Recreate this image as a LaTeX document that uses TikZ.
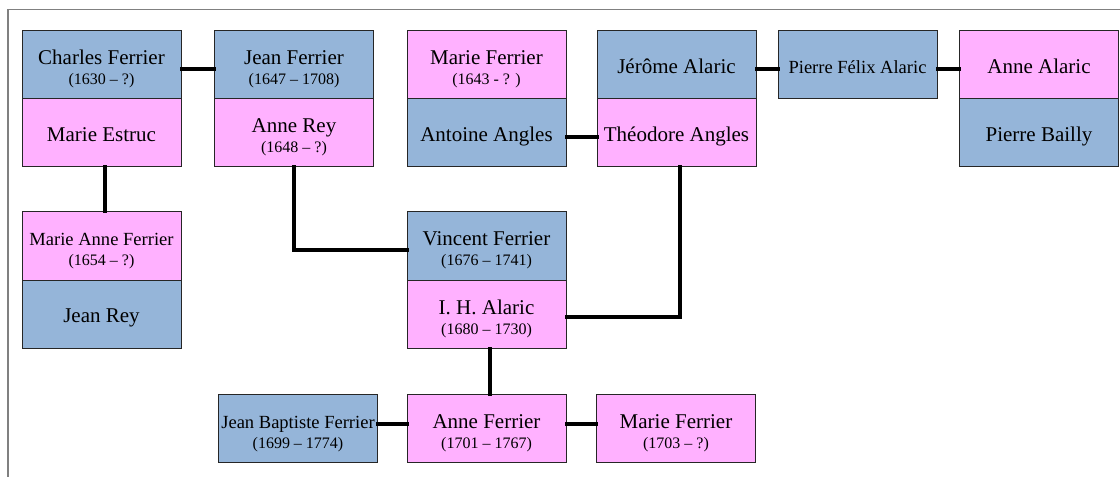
\documentclass[tikz,border=0pt]{standalone}
\usepackage{fontspec}
\setmainfont{Liberation Serif}
\usetikzlibrary{calc}
\definecolor{manblue}{RGB}{149,181,217}
\definecolor{womanpink}{RGB}{255,177,255}
\def\yrs#1{{\fontsize{12}{13}\selectfont #1}}

\begin{document}
\begin{tikzpicture}[x=0.75pt, y=-0.75pt,
		person/.style={draw=black!85, line width=0.75pt, rectangle, inner sep=0pt,
			minimum width=119.25pt, minimum height=51pt, align=center,
			font=\fontsize{15.75}{15}\selectfont, text height=13pt, text depth=0pt},
		manbox/.style={person, fill=manblue},
		womanbox/.style={person, fill=womanpink},
		dated/.style={text height=30pt, text depth=0pt},
		smallname/.style={font=\fontsize{13.9}{15}\selectfont},
		tie/.style={line width=3pt, line cap=rect}]
		%%%%% START %%%%%
		
		\useasboundingbox (0, 0) rectangle (1120, 477);
		\draw[line width=1pt, color=black!50] (8, 477) -- (8, 9.5) -- (1120, 9.5);
		
		\node[manbox, dated] (charles) at (101.5, 65) {Charles Ferrier\\\yrs{(1630 -- ?)}};
		\node[womanbox] (estruc) at (101.5, 133) {Marie Estruc};
		
		\node[manbox, dated] (jeanF) at (294, 65) {Jean Ferrier\\\yrs{(1647 -- 1708)}};
		\node[womanbox, dated] (anneRey) at (294, 133) {Anne Rey\\\yrs{(1648 -- ?)}};
		
		\node[womanbox, dated] (marieF) at (486.5, 65) {Marie Ferrier\\\yrs{(1643 - ? )}};
		\node[manbox] (antoine) at (486.5, 133) {Antoine Angles};
		
		\node[manbox] (jerome) at (676.5, 65) {Jérôme Alaric};
		\node[womanbox] (theodore) at (676.5, 133) {Théodore Angles};
		
		\node[manbox, smallname] (pierreF) at (857.5, 65) {Pierre Félix Alaric};
		
		\node[womanbox] (anneA) at (1039, 65) {Anne Alaric};
		\node[manbox] (bailly) at (1039, 133) {Pierre Bailly};
		
		\node[womanbox, smallname, dated] (marieAnne) at (101.5, 246) {Marie Anne Ferrier\\\yrs{(1654 -- ?)}};
		\node[manbox] (jeanRey) at (101.5, 314) {Jean Rey};
		
		\node[manbox, dated] (vincent) at (486.5, 246) {Vincent Ferrier\\\yrs{(1676 -- 1741)}};
		\node[womanbox, dated] (ihAlaric) at (486.5, 314) {I. H. Alaric\\\yrs{(1680 -- 1730)}};
		
		\node[manbox, smallname, dated] (jeanB) at (298, 428) {Jean Baptiste Ferrier\\\yrs{(1699 -- 1774)}};
		\node[womanbox, dated] (anneF) at (486.5, 428) {Anne Ferrier\\\yrs{(1701 -- 1767)}};
		\node[womanbox, dated] (marieF2) at (676, 428) {Marie Ferrier\\\yrs{(1703 -- ?)}};
		
		% marriages and siblings
		\draw[tie] ([yshift=-3pt]charles.east) -- ([yshift=-3pt]jeanF.west);
		\draw[tie] ([yshift=-3pt]jerome.east) -- ([yshift=-3pt]pierreF.west);
		\draw[tie] ([yshift=-3pt]pierreF.east) -- ([yshift=-3pt]anneA.west);
		\draw[tie] ([yshift=-3pt]antoine.east) -- ([yshift=-3pt]theodore.west);
		\draw[tie] ([yshift=3pt]jeanB.east) -- ([yshift=3pt]anneF.west);
		\draw[tie] ([yshift=3pt]anneF.east) -- ([yshift=3pt]marieF2.west);
		
		% children
		\draw[tie] ([xshift=2.6pt]estruc.south) -- ([xshift=2.6pt]marieAnne.north);
		\draw[tie] (anneRey.south) |- ([yshift=-3pt]vincent.west);
		\draw[tie] ([xshift=2.6pt]theodore.south) |- ([yshift=-2.3pt]ihAlaric.east);
		\draw[tie] ([xshift=2.6pt]ihAlaric.south) -- ([xshift=2.6pt]anneF.north);
		
		%%%%% END %%%%%
\end{tikzpicture}
\end{document}
